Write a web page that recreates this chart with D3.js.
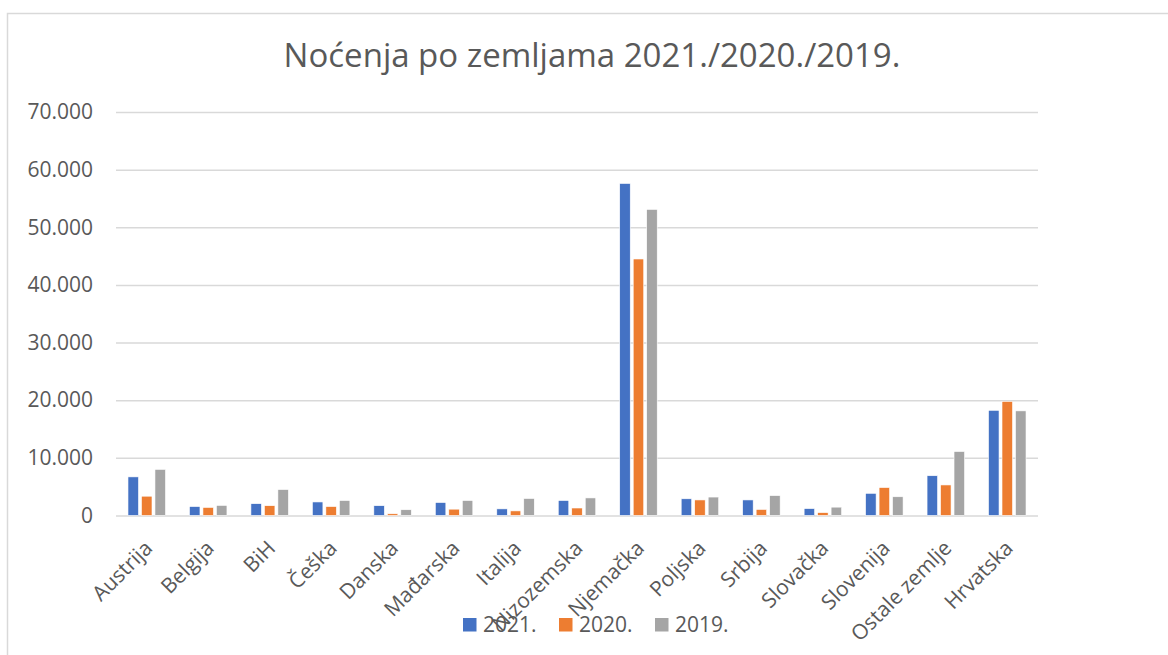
<!DOCTYPE html>
<html>
<head>
<meta charset="utf-8">
<script src="https://cdn.jsdelivr.net/npm/d3@7"></script>
<style>
  body { margin: 0; background: #fff; }
  text { font-family: "Open Sans", sans-serif; fill: #595959; }
</style>
</head>
<body>
<div id="chart"></div>
<script>
// data (noćenja, thousands as full numbers)
var categories = ["Austrija", "Belgija", "BiH", "Češka", "Danska", "Mađarska", "Italija",
  "Nizozemska", "Njemačka", "Poljska", "Srbija", "Slovačka", "Slovenija", "Ostale zemlje", "Hrvatska"];
var series = ["2021.", "2020.", "2019."];
var v2021 = [6700, 1550, 2050, 2350, 1700, 2250, 1150, 2600, 57600, 2900, 2700, 1200, 3850, 6900, 18250];
var v2020 = [3350, 1400, 1700, 1550, 300, 1100, 800, 1300, 44500, 2700, 1050, 500, 4850, 5300, 19800];
var v2019 = [8000, 1750, 4500, 2600, 1000, 2600, 2950, 3050, 53100, 3200, 3450, 1450, 3250, 11100, 18150];
var yTicks = [0, 10000, 20000, 30000, 40000, 50000, 60000, 70000];
var colors = ["#4472c4", "#ed7d31", "#a5a5a5"];

var values = [v2021, v2020, v2019];

var width = 1168, height = 655;
var margin = {top: 112, right: 130, bottom: 139, left: 116};

var svg = d3.select("#chart").append("svg")
  .attr("width", width)
  .attr("height", height);

// chart frame
svg.append("rect")
  .attr("x", 7.5).attr("y", 13.5)
  .attr("width", width + 20).attr("height", height + 20)
  .attr("fill", "none")
  .attr("stroke", "#d9d9d9")
  .attr("stroke-width", 1.5);

var y = d3.scaleLinear()
  .domain([0, 70000])
  .range([height - margin.bottom - 0.5, margin.top]);

var x0 = d3.scaleBand()
  .domain(categories)
  .range([margin.left, width - margin.right])
  .paddingInner(0.39)
  .paddingOuter(0.195);

var x1 = d3.scaleBand()
  .domain(series)
  .range([0, x0.bandwidth()])
  .paddingInner(0.22);

var fmt = function(d) { return d3.format(",")(d).replace(/,/g, "."); };

// gridlines + tick labels
var yAxis = svg.append("g")
  .attr("transform", "translate(" + margin.left + ",0)")
  .call(d3.axisLeft(y).tickValues(yTicks).tickFormat(fmt)
    .tickSize(-(width - margin.right - margin.left)).tickPadding(23));
yAxis.select(".domain").remove();
yAxis.selectAll("line").attr("stroke", "#d9d9d9").attr("stroke-width", 1.5);
yAxis.selectAll("text")
  .attr("font-size", 21)
  .style("font-family", "'Open Sans', sans-serif")
  .attr("fill", "#595959");

// bars
var groups = svg.append("g").selectAll("g")
  .data(categories)
  .enter().append("g")
  .attr("transform", d => "translate(" + x0(d) + ",0)");

groups.selectAll("rect")
  .data((d, i) => series.map((s, j) => ({key: s, value: values[j][i], color: colors[j]})))
  .enter().append("rect")
  .attr("x", d => x1(d.key))
  .attr("width", x1.bandwidth())
  .attr("y", d => y(d.value))
  .attr("height", d => y(0) - y(d.value))
  .attr("fill", d => d.color)
  .attr("stroke", "#fff")
  .attr("stroke-width", 0.6);

// category labels
svg.append("g").selectAll("text")
  .data(categories)
  .enter().append("text")
  .attr("transform", d => "translate(" + (x0(d) + x0.bandwidth() / 2 + 7) + "," + (y(0) + 34) + ") rotate(-45)")
  .attr("text-anchor", "end")
  .attr("font-size", 21)
  .text(d => d);

// title
svg.append("text")
  .attr("x", 592)
  .attr("y", 67)
  .attr("text-anchor", "middle")
  .attr("font-size", 33)
  .text("Noćenja po zemljama 2021./2020./2019.");

// legend
var legendX = [463, 559, 655];
var legend = svg.append("g").selectAll("g")
  .data(series)
  .enter().append("g")
  .attr("transform", (d, i) => "translate(" + legendX[i] + ",618)");
legend.append("rect")
  .attr("width", 13.5).attr("height", 13.5)
  .attr("fill", (d, i) => colors[i]);
legend.append("text")
  .attr("x", 20).attr("y", 14)
  .attr("font-size", 21)
  .text(d => d);
</script>
</body>
</html>
